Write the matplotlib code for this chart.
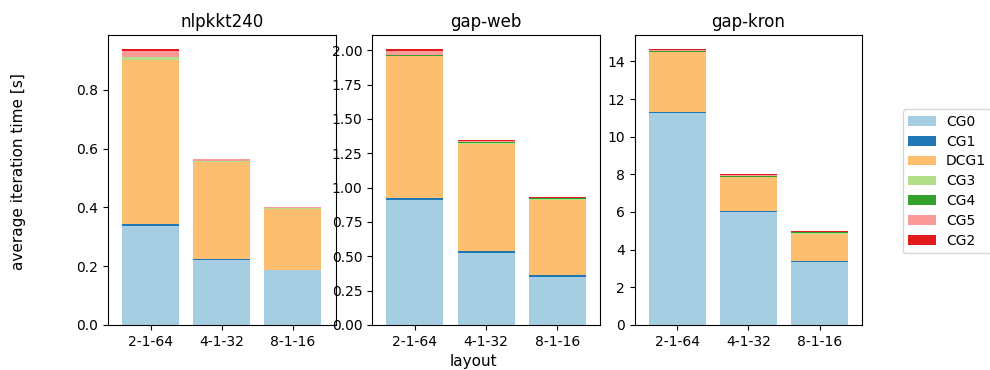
import matplotlib
matplotlib.use("Agg")
import matplotlib.pyplot as plt
import numpy as np

# =============================================================================
# Data
# =============================================================================
layouts = ["2-1-64", "4-1-32", "8-1-16"]
datasets = ["nlpkkt240", "gap-web", "gap-kron"]
stages = ["CG0", "CG1", "DCG1", "CG3", "CG4", "CG5", "CG2"]

# average iteration time [s] per stage, one row per layout
nlpkkt240 = [
    [0.337, 0.007, 0.558, 0.008, 0.003, 0.019, 0.007],
    [0.222, 0.003, 0.330, 0.002, 0.002, 0.005, 0.002],
    [0.185, 0.003, 0.207, 0.001, 0.001, 0.003, 0.002],
]
gap_web = [
    [0.910, 0.012, 1.033, 0.007, 0.007, 0.028, 0.013],
    [0.525, 0.010, 0.784, 0.004, 0.007, 0.012, 0.007],
    [0.352, 0.008, 0.550, 0.004, 0.008, 0.002, 0.004],
]
gap_kron = [
    [11.25, 0.06, 3.17, 0.03, 0.04, 0.05, 0.06],
    [6.00, 0.05, 1.80, 0.02, 0.03, 0.05, 0.05],
    [3.36, 0.04, 1.45, 0.02, 0.08, 0.01, 0.03],
]
values = [nlpkkt240, gap_web, gap_kron]

colors = ["#a6cee3", "#1f78b4", "#fdbf6f", "#b2df8a", "#33a02c", "#fb9a99", "#e31a1c"]

# =============================================================================
# Plot
# =============================================================================
fig = plt.figure(figsize=(9.9, 3.7), dpi=100)
lefts = [0.109, 0.376, 0.641]
axes = [fig.add_axes([l, 0.122, 0.230, 0.783]) for l in lefts]

x = np.arange(len(layouts))
for ax, name, data in zip(axes, datasets, values):
    data = np.array(data)
    bottom = np.zeros(len(layouts))
    for j, stage in enumerate(stages):
        ax.bar(x, data[:, j], 0.8, bottom=bottom, color=colors[j], label=stage)
        bottom += data[:, j]
    ax.set_xticks(x)
    ax.set_xticklabels(layouts)
    ax.set_xlim(-0.6, 2.6)
    ax.set_title(name)

fig.text(0.478, 0.024, "layout", ha="center", va="center", fontsize=11)
fig.text(0.019, 0.535, "average iteration time [s]", rotation=90,
         va="center", ha="center", fontsize=11)

handles, labels = axes[0].get_legend_handles_labels()
fig.legend(handles, labels, loc="center left", bbox_to_anchor=(0.905, 0.51),
           labelspacing=0.42, handletextpad=0.7)

fig.savefig("out.png", dpi=100)
